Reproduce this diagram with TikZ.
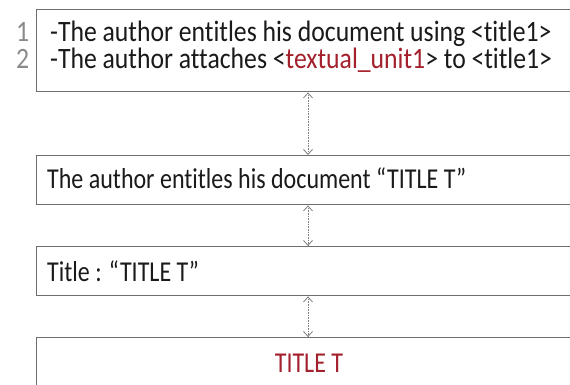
\documentclass[tikz,border=0pt]{standalone}
\usepackage{fontspec}
\setmainfont[Ligatures={NoCommon}]{Carlito}
\usetikzlibrary{arrows.meta}
\definecolor{boxgray}{HTML}{6E6E6E}
\definecolor{numgray}{HTML}{8A8A8A}
\definecolor{darkred}{HTML}{A3202C}
\definecolor{txt}{HTML}{1A1A1A}
\newcommand{\tallt}[1]{\scalebox{1}[1.2]{#1}}
\newcommand{\talls}[1]{\scalebox{1}[1.15]{#1}}
\tikzset{
  x=1pt, y=1pt,
  box/.style={draw=boxgray, line width=1.4pt, fill=white},
  label/.style={anchor=base west, inner sep=0pt, font=\fontsize{24}{28}\selectfont, text=txt},
  biglabel/.style={label, font=\fontsize{25.7}{30}\selectfont},
  link/.style={draw=gray, densely dotted, line width=0.6pt,
    {Straight Barb[length=5pt,width=9pt,line width=0.8pt]}-{Straight Barb[length=5pt,width=9pt,line width=0.8pt]}},
}
\begin{document}
\begin{tikzpicture}
\useasboundingbox (0,0) rectangle (570,385);
\clip (0,0) rectangle (570,385);
\fill[white] (0,0) rectangle (570,385);
\node[box, minimum width=560pt, minimum height=82pt, anchor=north west] (b1) at (36,376) {};
\node[box, minimum width=560pt, minimum height=49pt, anchor=north west] (b2) at (36,230) {};
\node[box, minimum width=560pt, minimum height=49pt, anchor=north west] (b3) at (36,139) {};
\node[box, minimum width=560pt, minimum height=60pt, anchor=north west] (b4) at (36,48) {};
\node[biglabel, text=numgray] (n1) at (16,343) {\talls{1}};
\node[biglabel, text=numgray] (n2) at (16,316) {\talls{2}};
\node[biglabel] (l1) at (50,343) {\talls{-The author entitles his document using <title1>}};
\node[biglabel] (l2) at (50,316) {\talls{-The author attaches <\textcolor{darkred}{textual\_unit1}> to <title1>}};
\node[label] (l3) at (47,196) {\tallt{The author entitles his document “TITLE T”}};
\node[label] (l4) at (47,103) {\tallt{Title : “TITLE T”}};
\node[label, anchor=base, text=darkred] (l5) at (309,12) {\tallt{TITLE T}};
\coordinate (ax) at (308,0);
\draw[link] (b1.south -| ax) -- (b2.north -| ax);
\draw[link] (b2.south -| ax) -- (b3.north -| ax);
\draw[link] (b3.south -| ax) -- (b4.north -| ax);
\end{tikzpicture}
\end{document}
